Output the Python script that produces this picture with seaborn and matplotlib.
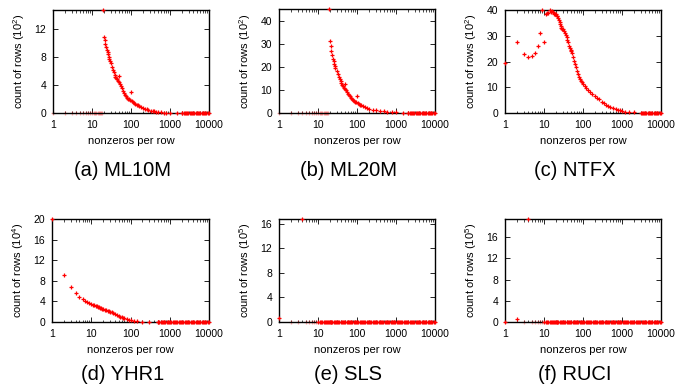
import matplotlib
matplotlib.use('Agg')
import matplotlib.pyplot as plt
import seaborn as sns
import pandas as pd
from matplotlib.ticker import FixedLocator, LogLocator, NullFormatter

sns.set_style("white")
plt.rcParams.update({
    'font.family': ['Liberation Sans', 'DejaVu Sans'],
    'mathtext.fontset': 'custom',
    'mathtext.rm': 'Liberation Sans',
    'mathtext.it': 'Liberation Sans:italic',
    'axes.edgecolor': 'black',
    'axes.linewidth': 1.0,
    'text.color': 'black',
    'axes.labelcolor': 'black',
    'xtick.color': 'black',
    'ytick.color': 'black',
})

# ---- data: count of rows per number of nonzeros ----
ml10m_x = [19, 20, 21, 22, 23, 24, 25, 26, 27, 28, 29, 30, 32, 34, 36, 38, 40, 42, 44, 46, 48,
           50, 52, 55, 58, 61, 65, 70, 75, 80, 85, 90, 95, 100, 105, 110, 120, 130, 140, 150,
           165, 180, 200, 225, 250, 280, 320, 360, 400, 450, 500, 600, 700, 800, 1000, 1500, 2000]
ml10m_y = [14.7, 10.8, 10.4, 9.9, 9.4, 9.0, 8.7, 8.4, 8.0, 7.7, 7.4, 7.1, 6.5, 6.1, 5.8, 5.4,
           5.2, 5.0, 4.8, 4.6, 4.4, 5.3, 4.1, 3.8, 3.5, 3.1, 2.8, 2.6, 2.4, 2.2, 2.05, 1.95,
           1.85, 3.0, 1.65, 1.55, 1.4, 1.3, 1.2, 1.1, 0.95, 0.85, 0.72, 0.6, 0.5, 0.42, 0.33,
           0.27, 0.22, 0.17, 0.13, 0.09, 0.07, 0.05, 0.03, 0.02, 0.01]

ml20m_x = [19, 20, 21, 22, 23, 24, 25, 26, 27, 28, 30, 32, 34, 36, 38, 40, 42, 44, 46, 48, 50,
           52, 55, 58, 61, 65, 70, 75, 80, 85, 90, 95, 100, 105, 110, 120, 130, 140, 160, 180,
           200, 250, 300, 400, 500, 600, 800, 1000, 1500, 2000]
ml20m_y = [45, 31, 29, 27, 25, 23.5, 22.3, 21.2, 20.2, 19.4, 18.0, 16.8, 15.7, 14.6, 13.7,
           12.9, 12.2, 11.6, 11.0, 10.5, 12.6, 9.8, 9.0, 8.4, 7.8, 7.2, 6.6, 6.1, 5.6, 5.2,
           4.9, 4.7, 7.5, 4.3, 4.0, 3.6, 3.3, 3.0, 2.5, 2.2, 1.9, 1.5, 1.3, 1.0, 0.8, 0.6,
           0.4, 0.3, 0.15, 0.1]

ntfx_x = [1, 2, 3, 4, 5, 6, 7, 8, 9, 10, 11, 12, 13, 14, 15, 16, 17, 18, 19, 20, 21, 22, 23,
          24, 25, 26, 27, 28, 29, 30, 32, 34, 36, 38, 40, 42, 44, 46, 48, 50, 52, 55, 58, 61,
          65, 70, 75, 80, 85, 90, 95, 100, 110, 120, 135, 150, 170, 200, 230, 260, 300, 350,
          400, 450, 500, 600, 700, 800, 900, 1000, 1200, 1500, 2000, 3000]
ntfx_y = [19.5, 27.5, 22.8, 21.9, 22.1, 23.4, 26.2, 31.2, 40.0, 27.5, 38.3, 39.0, 38.7, 39.9,
          39.4, 39.8, 39.1, 38.3, 38.6, 38.3, 37.8, 37.5, 36.8, 36.0, 35.2, 34.5, 33.8, 33.2,
          32.8, 32.5, 32.0, 31.2, 30.3, 29.5, 28.3, 27.5, 26.2, 25.2, 24.6, 24.2, 23.2, 21.8,
          20.3, 19.0, 17.8, 16.3, 15.0, 14.0, 13.2, 12.5, 12.0, 11.4, 10.6, 9.9, 9.0, 8.3,
          7.4, 6.5, 5.8, 5.3, 4.4, 3.7, 3.2, 2.8, 2.5, 2.0, 1.6, 1.3, 1.05, 0.8, 0.55, 0.35,
          0.2, 0.08]

yhr1_x = [1, 2, 3, 4, 5, 6, 7, 8, 9, 10, 11, 12, 13, 14, 15, 16, 17, 18, 19, 20, 22, 24, 26,
          28, 30, 33, 36, 40, 45, 50, 55, 60, 65, 70, 80, 90, 100, 120, 150, 200, 300, 500]
yhr1_y = [20.0, 9.1, 6.7, 5.7, 4.9, 4.4, 4.05, 3.85, 3.65, 3.5, 3.38, 3.28, 3.18, 3.05, 2.95,
          2.88, 2.8, 2.7, 2.62, 2.55, 2.42, 2.3, 2.18, 2.07, 1.98, 1.85, 1.72, 1.55, 1.38, 1.2,
          1.05, 0.92, 0.82, 0.72, 0.56, 0.45, 0.36, 0.25, 0.15, 0.09, 0.04, 0.02]

sls_x = [1, 4]
sls_y = [0.6, 16.8]

ruci_x = [1, 2, 4]
ruci_y = [0.0, 0.6, 19.4]

# near-empty bins before the bulk of each distribution (drawn faint on the axis)
ml10m_lead_x = [1, 2, 3, 4, 5, 6, 7, 8, 9, 10, 11, 12, 13, 14, 15, 16, 17, 18]
ml20m_lead_x = [1, 2, 3, 4, 5, 6, 7, 8, 9, 10, 11, 12, 13, 14, 15, 16, 17, 18]
sls_lead_x = [2, 3, 5, 6, 7, 8, 9]
ruci_lead_x = [3, 5, 6, 7, 8, 9]

# bins whose counts read as zero, along the bottom axis up to 10000
tail_x = [10, 11, 12, 13, 14, 15, 16, 17, 18, 19, 20, 21, 22, 23, 25, 27, 29, 31, 33, 35, 38,
          41, 44, 47, 50, 54, 58, 62, 66, 71, 76, 82, 88, 94, 100, 108, 116, 124, 133, 143,
          153, 164, 176, 189, 203, 218, 234, 251, 269, 289, 310, 333, 357, 383, 411, 441, 473,
          508, 545, 585, 628, 674, 723, 776, 833, 894, 960, 1030, 1100, 1180, 1270, 1360,
          1460, 1570, 1680, 1800, 1940, 2080, 2230, 2390, 2570, 2760, 2960, 3180, 3410, 3660,
          3930, 4220, 4530, 4860, 5220, 5600, 6010, 6450, 6920, 7430, 7980, 8560, 9190, 10000]

panels = [
    # x, y, lead, ymax, yticks, exponent, caption, rect(px: left, top, right, bottom), caption centre
    (ml10m_x, ml10m_y, ml10m_lead_x, 14.7, [0, 4, 8, 12], 2, '(a) ML10M', (53, 10, 209, 113), (123, 170)),
    (ml20m_x, ml20m_y, ml20m_lead_x, 45, [0, 10, 20, 30, 40], 2, '(b) ML20M', (279, 9, 435, 113), (349, 170)),
    (ntfx_x, ntfx_y, [], 40, [0, 10, 20, 30, 40], 2, '(c) NTFX', (505, 10, 661, 113), (575, 170)),
    (yhr1_x, yhr1_y, [], 20, [0, 4, 8, 12, 16, 20], 4, '(d) YHR1', (52, 219, 209, 322), (123, 375)),
    (sls_x, sls_y, sls_lead_x, 16.8, [0, 4, 8, 12, 16], 5, '(e) SLS', (279, 219, 435, 322), (348, 375)),
    (ruci_x, ruci_y, ruci_lead_x, 19.4, [0, 4, 8, 12, 16], 5, '(f) RUCI', (505, 219, 661, 322), (575, 375)),
]

W, H = 696, 388
fig = plt.figure(figsize=(W / 100, H / 100), dpi=100)

for xs, ys, lead, ymax, yticks, expo, caption, (l, t, r, b), (cx, cy) in panels:
    ax = fig.add_axes([l / W, 1 - b / H, (r - l) / W, (b - t) / H])

    last = max(xs)
    tail = [v for v in tail_x if v > last]
    df = pd.DataFrame({'nnz': list(xs) + tail, 'rows': list(ys) + [0.0] * len(tail)})
    lead_df = pd.DataFrame({'nnz': lead, 'rows': [0.0] * len(lead)})

    if len(lead_df):
        sns.scatterplot(data=lead_df, x='nnz', y='rows', ax=ax, marker='+', s=8,
                        color='red', linewidth=0.9, alpha=0.35, clip_on=False, zorder=2)
    sns.scatterplot(data=df, x='nnz', y='rows', ax=ax, marker='+', s=8,
                    color='red', linewidth=0.9, clip_on=False, zorder=3)

    ax.set_xscale('log')
    ax.set_xlim(1, 10000)
    ax.set_ylim(0, ymax)
    ax.xaxis.set_major_locator(FixedLocator([1, 10, 100, 1000, 10000]))
    ax.set_xticklabels(['1', '10', '100', '1000', '10000'])
    ax.xaxis.set_minor_locator(LogLocator(base=10, subs=range(2, 10), numticks=20))
    ax.xaxis.set_minor_formatter(NullFormatter())
    ax.set_yticks(yticks)
    ax.set_yticklabels([str(v) for v in yticks])

    ax.tick_params(which='both', direction='in', top=True, right=True, bottom=True, left=True,
                   colors='black', labelsize=7.5, pad=5)
    ax.tick_params(which='major', length=3.5, width=0.6)
    ax.tick_params(which='minor', length=1.8, width=0.5)
    ax.tick_params(axis='y', which='minor', left=False, right=False)

    ax.set_xlabel('nonzeros per row', fontsize=8)
    ax.xaxis.set_label_coords(0.5, -0.225)
    ax.set_ylabel('count of rows (10$^{%d}$)' % expo, fontsize=8)
    ax.yaxis.set_label_coords(-0.165, 0.5)
    for s in ax.spines.values():
        s.set_visible(True)
        s.set_zorder(2.5)

    fig.text(cx / W, 1 - cy / H, caption, ha='center', va='center', fontsize=14.5)

fig.savefig('out.png', dpi=100)
